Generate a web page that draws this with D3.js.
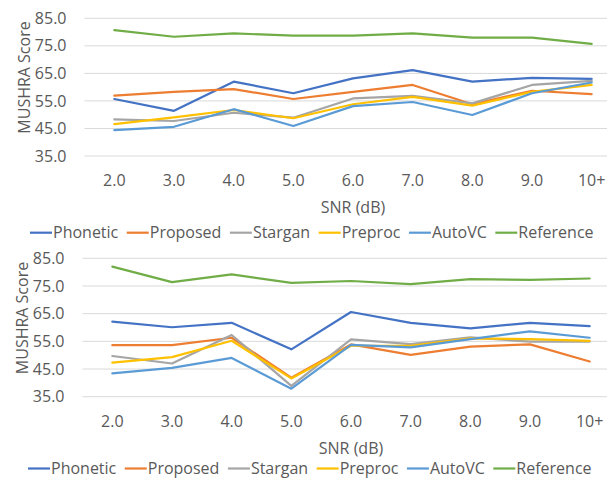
<!DOCTYPE html>
<html>
<head>
    <title>MUSHRA vs SNR</title>
    <style>
        body { margin: 0; background: #fff; }
        text { font-family: "Open Sans", sans-serif; fill: #595959; }
    </style>
</head>
<body>
    <script src="https://d3js.org/d3.v7.min.js"></script>
    <script>
        // categories and ticks
        const snrLabels = ['2.0', '3.0', '4.0', '5.0', '6.0', '7.0', '8.0', '9.0', '10+'];
        const yTicks = [35, 45, 55, 65, 75, 85];
        const seriesNames = ['Phonetic', 'Proposed', 'Stargan', 'Preproc', 'AutoVC', 'Reference'];
        const colors = ['#4472C4', '#ED7D31', '#A5A5A5', '#FFC000', '#5B9BD5', '#70AD47'];

        // top chart values
        const topPhonetic  = [55.7, 51.4, 62.0, 57.8, 63.2, 66.2, 62.0, 63.4, 63.0];
        const topProposed  = [56.9, 58.3, 59.3, 55.7, 58.3, 60.8, 53.8, 58.7, 57.5];
        const topStargan   = [48.3, 47.7, 50.7, 48.9, 55.9, 56.8, 54.1, 60.8, 62.3];
        const topPreproc   = [46.6, 49.0, 51.7, 48.7, 53.8, 56.5, 53.3, 58.3, 60.8];
        const topAutoVC    = [44.4, 45.6, 52.0, 45.9, 53.1, 54.6, 49.9, 57.8, 61.7];
        const topReference = [80.7, 78.3, 79.5, 78.7, 78.7, 79.5, 78.0, 78.0, 75.7];

        // bottom chart values
        const botPhonetic  = [62.1, 60.1, 61.7, 52.1, 65.6, 61.7, 59.7, 61.7, 60.5];
        const botProposed  = [53.6, 53.6, 56.3, 41.9, 53.9, 50.1, 53.1, 53.9, 47.7];
        const botStargan   = [49.7, 47.0, 57.3, 38.9, 55.7, 54.0, 56.4, 54.9, 54.9];
        const botPreproc   = [47.3, 49.3, 55.2, 41.6, 53.4, 53.4, 56.1, 55.8, 55.2];
        const botAutoVC    = [43.4, 45.4, 49.0, 37.9, 53.7, 52.8, 55.8, 58.6, 56.3];
        const botReference = [82.0, 76.4, 79.2, 76.1, 76.8, 75.7, 77.5, 77.2, 77.7];

        const W = 607, H = 479;
        const svg = d3.select('body').append('svg')
            .attr('width', W).attr('height', H);

        function drawPanel(series, box) {
            const g = svg.append('g');

            const x = d3.scaleBand().domain(snrLabels).range([box.left, box.right]).padding(0);
            const y = d3.scaleLinear().domain([35, 85]).range([box.bottom, box.top]);
            const cx = d => x(d) + x.bandwidth() / 2;

            // gridlines
            g.selectAll('.grid')
                .data(yTicks)
                .enter().append('line')
                .attr('x1', box.left).attr('x2', box.right)
                .attr('y1', d => y(d)).attr('y2', d => y(d))
                .attr('stroke', '#d9d9d9').attr('stroke-width', 1);

            // y axis labels
            const yAxis = g.append('g')
                .attr('transform', `translate(${box.left},0)`)
                .call(d3.axisLeft(y).tickValues(yTicks).tickFormat(d3.format('.1f')).tickSize(0).tickPadding(18));
            yAxis.select('.domain').remove();
            yAxis.selectAll('text').attr('font-size', 16).attr('font-family', null);

            // x axis labels
            const xAxis = g.append('g')
                .attr('transform', `translate(0,${box.bottom})`)
                .call(d3.axisBottom(x).tickSize(0).tickPadding(19));
            xAxis.select('.domain').remove();
            xAxis.selectAll('text').attr('font-size', 16).attr('font-family', null);

            // axis titles
            g.append('text')
                .attr('transform', `translate(${box.left - 60},${box.titleY}) rotate(-90)`)
                .attr('text-anchor', 'middle')
                .attr('dy', '0.35em')
                .attr('font-size', 16)
                .text('MUSHRA Score');

            g.append('text')
                .attr('x', (box.left + box.right) / 2)
                .attr('y', box.bottom + 57)
                .attr('text-anchor', 'middle')
                .attr('font-size', 16)
                .text('SNR (dB)');

            // lines
            const line = d3.line()
                .x((d, i) => cx(snrLabels[i]))
                .y(d => y(d));

            series.forEach((vals, i) => {
                g.append('path')
                    .datum(vals)
                    .attr('d', line)
                    .attr('fill', 'none')
                    .attr('stroke', colors[i])
                    .attr('stroke-width', 2.2)
                    .attr('stroke-linejoin', 'round')
                    .attr('stroke-linecap', 'round');
            });

            // legend
            let lx = box.legendX;
            const ly = box.legendY;
            seriesNames.forEach((name, i) => {
                g.append('line')
                    .attr('x1', lx).attr('x2', lx + 22)
                    .attr('y1', ly).attr('y2', ly)
                    .attr('stroke', colors[i]).attr('stroke-width', 2.2);
                const t = g.append('text')
                    .attr('x', lx + 23)
                    .attr('y', ly)
                    .attr('dy', '0.35em')
                    .attr('font-size', 16)
                    .text(name);
                lx += 23 + t.node().getComputedTextLength() + 8.5;
            });
        }

        drawPanel([topPhonetic, topProposed, topStargan, topPreproc, topAutoVC, topReference],
            { left: 84.5, right: 621.5, top: 18.3, bottom: 156, titleY: 77.5, legendX: 30, legendY: 232.7 });

        drawPanel([botPhonetic, botProposed, botStargan, botPreproc, botAutoVC, botReference],
            { left: 82.5, right: 619.5, top: 258.3, bottom: 396.7, titleY: 318, legendX: 28, legendY: 468.5 });
    </script>
</body>
</html>
